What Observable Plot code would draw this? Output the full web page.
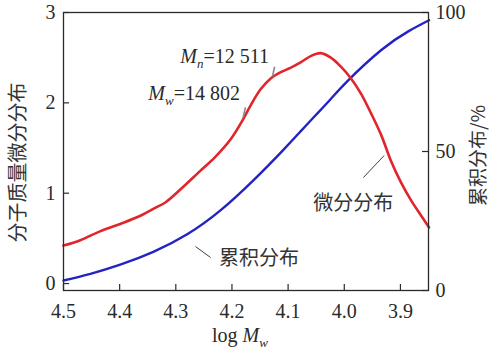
<!DOCTYPE html>
<html><head><meta charset="utf-8">
<script src="https://cdn.jsdelivr.net/npm/d3@7"></script>
<script src="https://cdn.jsdelivr.net/npm/@observablehq/plot@0.6"></script>
<style>
body{margin:0;background:#fff}
#chart svg text{font-family:"Liberation Serif","Times New Roman",Times,serif !important}
#chart svg text.cjk{font-family:"Noto Sans CJK SC","Noto Sans CJK JP",sans-serif !important}
</style>
</head><body><div id="chart"></div>
<script>
// Differential distribution (left axis)
const diffLogM = [4.500,4.470,4.434,4.399,4.363,4.336,4.318,4.292,4.256,4.230,4.202,4.179,4.167,4.149,4.131,4.113,4.095,4.077,4.059,4.042,4.024,4.006,3.988,3.970,3.952,3.934,3.917,3.899,3.881,3.863,3.849];
const diffVal  = [0.42,0.48,0.58,0.66,0.75,0.84,0.90,1.04,1.25,1.40,1.60,1.83,1.97,2.15,2.27,2.34,2.39,2.45,2.52,2.55,2.50,2.40,2.27,2.10,1.88,1.64,1.36,1.12,0.92,0.75,0.62];
// Cumulative distribution (right axis, %)
const cumLogM = [4.500,4.452,4.399,4.340,4.279,4.220,4.161,4.108,4.077,4.054,4.024,3.993,3.934,3.886,3.849];
const cumPct  = [3.6,6.0,9.3,13.9,20.3,28.9,39.8,50.7,57.4,62.4,68.9,75.6,86.5,93.2,97.2];
// Ticks
const xTicks = [4.5,4.4,4.3,4.2,4.1,4.0,3.9];
const yLeftTicks = [0,1,2,3];
const yRightTicks = [0,50,100];
// Labels
const yLeftTitle = "分子质量微分分布";
const yRightTitle = "累积分布/%";
const xTitle = "log Mw";
const curveLabels = [{text:"微分分布", x:3.984, y:0.885}, {text:"累积分布", x:4.152, y:0.277}];
const leaders = [{x1:3.966,y1:1.173,x2:3.929,y2:1.417},{x1:4.265,y1:0.41,x2:4.238,y2:0.288}];
const avgLabels = [{text:"Mn=12 511", x:4.292, y:2.51}, {text:"Mw=14 802", x:4.349, y:2.10}];
const avgMarks = [{x1:4.124,y1:2.40,x2:4.128,y2:2.29},{x1:4.176,y1:1.95,x2:4.180,y2:1.84}];

const W = 489, H = 356, mL = 63, mR = 61, mT = 12, mB = 66;
const plotW = W - mL - mR, plotH = H - mT - mB;
const yMin = -0.077, yMax = 3;
const toLeft = p => yMin + p / 100 * (yMax - yMin);

const diffData = diffLogM.map((x, i) => ({x, y: diffVal[i]}));
const cumData = cumLogM.map((x, i) => ({x, y: toLeft(cumPct[i])}));

const ink = "#2a2a2a";

const chart = Plot.plot({
  width: W, height: H,
  marginLeft: mL, marginRight: mR, marginTop: mT, marginBottom: mB,
  style: {background: "#fff", overflow: "visible"},
  x: {type: "linear", domain: [4.5, 3.85], axis: null},
  y: {domain: [yMin, yMax], axis: null},
  marks: [
    Plot.line(cumData, {x: "x", y: "y", stroke: "#2323c4", strokeWidth: 2.4, curve: "natural"}),
    Plot.line(diffData, {x: "x", y: "y", stroke: "#e0262c", strokeWidth: 2.6, curve: "catmull-rom"}),
    Plot.tickX(xTicks, {x: d => d, insetTop: plotH - 6, stroke: ink, strokeWidth: 1.2}),
    Plot.tickY(yLeftTicks, {y: d => d, insetRight: plotW - 6, stroke: ink, strokeWidth: 1.2}),
    Plot.tickY(yRightTicks.map(toLeft), {y: d => d, insetLeft: plotW - 6, stroke: ink, strokeWidth: 1.2}),
    Plot.frame({stroke: ink, strokeWidth: 1.3}),
    Plot.axisX(xTicks, {tickSize: 0, tickPadding: 13, tickFormat: d3.format(".1f"), label: null, fontSize: 20, fill: ink}),
    Plot.axisY(yLeftTicks, {anchor: "left", tickSize: 0, tickPadding: 8, label: null, fontSize: 20, fill: ink,
      tickFormat: d => String(d)}),
    Plot.axisY(yRightTicks.map(toLeft), {anchor: "right", tickSize: 0, tickPadding: 7, label: null, fontSize: 20, fill: ink,
      tickFormat: d => String(Math.round((d - yMin) / (yMax - yMin) * 100))}),
    Plot.text([yLeftTitle], {text: d => d, frameAnchor: "left", textAnchor: "middle", dx: -45, dy: 11, rotate: -90, fontSize: 20, fill: "#333"}),
    Plot.text([yRightTitle], {text: d => d, frameAnchor: "right", textAnchor: "middle", dx: 50, dy: 4, rotate: -90, fontSize: 19, fill: "#333"}),
    Plot.text([xTitle], {text: d => d, frameAnchor: "bottom", dx: -6, dy: 51, fontSize: 20, fill: ink}),
    Plot.link(leaders, {x1: "x1", y1: "y1", x2: "x2", y2: "y2", stroke: ink, strokeWidth: 0.9}),
    Plot.text(curveLabels, {x: "x", y: "y", text: "text", fontSize: 20, fill: "#333"}),
    Plot.link(avgMarks, {x1: "x1", y1: "y1", x2: "x2", y2: "y2", stroke: "#888", strokeWidth: 1.6}),
    Plot.text(avgLabels, {x: "x", y: "y", text: "text", textAnchor: "start", fontSize: 20, fill: ink})
  ]
});

const NS = "http://www.w3.org/2000/svg";
function richify(svg, plain, parts) {
  svg.querySelectorAll("text").forEach(t => {
    if (t.textContent === plain) {
      t.textContent = "";
      parts.forEach(p => {
        const s = document.createElementNS(NS, "tspan");
        s.textContent = p.t;
        if (p.i) s.style.fontStyle = "italic";
        if (p.sub) { s.style.fontSize = "13px"; s.setAttribute("dy", "5"); }
        if (p.up) s.setAttribute("dy", "-5");
        t.appendChild(s);
      });
    }
  });
}
richify(chart, "log Mw", [{t: "log "}, {t: "M", i: true}, {t: "w", i: true, sub: true}]);
richify(chart, "Mn=12 511", [{t: "M", i: true}, {t: "n", i: true, sub: true}, {t: "=12 511", up: true}]);
richify(chart, "Mw=14 802", [{t: "M", i: true}, {t: "w", i: true, sub: true}, {t: "=14 802", up: true}]);
chart.querySelectorAll("text").forEach(t => {
  if (/[\u4e00-\u9fff]/.test(t.textContent)) t.classList.add("cjk");
});

document.getElementById("chart").appendChild(chart);
</script>
</body></html>
